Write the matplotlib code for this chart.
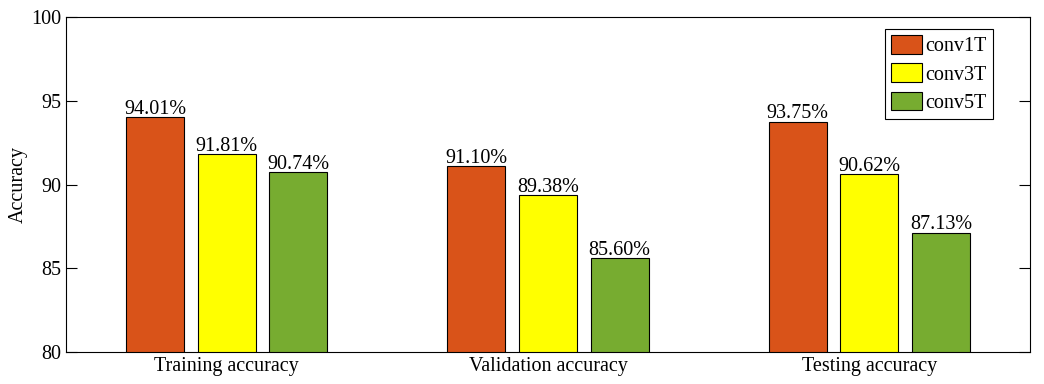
import numpy as np
import matplotlib.pyplot as plt

plt.rcParams['font.family'] = ['Liberation Serif', 'DejaVu Serif']
plt.rcParams['font.size'] = 14.5

groups = ['Training accuracy', 'Validation accuracy', 'Testing accuracy']
series = ['conv1T', 'conv3T', 'conv5T']
conv1T = [94.01, 91.10, 93.75]
conv3T = [91.81, 89.38, 90.62]
conv5T = [90.74, 85.60, 87.13]
colors = ['#D95319', '#FFFF00', '#77AC30']

fig = plt.figure(figsize=(10.44, 3.84), dpi=100)
ax = fig.add_axes([0.0632, 0.0833, 0.9234, 0.8724])

x = np.arange(1, len(groups) + 1)
width = 0.18
offsets = [-0.223, 0, 0.223]
for vals, name, c, off in zip([conv1T, conv3T, conv5T], series, colors, offsets):
    bars = ax.bar(x + off, vals, width, color=c, edgecolor='black', linewidth=0.8, label=name)
    for b, v in zip(bars, vals):
        ax.text(b.get_x() + b.get_width() / 2, v - 0.1, '%.2f%%' % v,
                ha='center', va='bottom', fontsize=14.5)

ax.set_xlim(0.5, 3.5)
ax.set_ylim(80, 100)
ax.set_yticks([80, 85, 90, 95, 100])
ax.set_xticks(x)
ax.set_xticklabels(groups)
ax.set_ylabel('Accuracy', labelpad=2)
ax.tick_params(direction='in', length=8, top=False, right=True, width=0.8)
ax.tick_params(axis='x', length=0)
for s in ax.spines.values():
    s.set_linewidth(0.8)

leg = ax.legend(loc='upper right', bbox_to_anchor=(0.9616, 0.964), fancybox=False,
                edgecolor='black', framealpha=1, fontsize=14.5,
                handlelength=1.5, handleheight=1.05, handletextpad=0.2,
                borderpad=0.3, labelspacing=0.35, borderaxespad=0)
leg.get_frame().set_linewidth(0.8)

fig.savefig('out.png', dpi=100)
